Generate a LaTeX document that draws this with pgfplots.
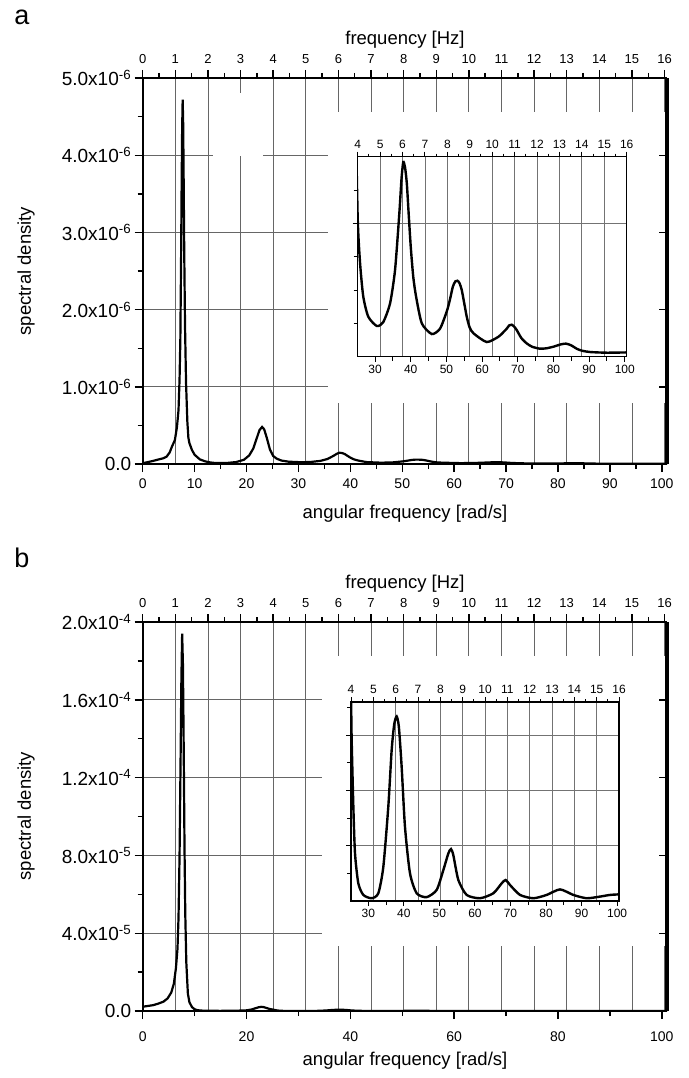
\documentclass[border=0pt]{standalone}
\usepackage{fontspec}
\setmainfont{Liberation Sans}
\usepackage{pgfplots}
\usepackage{pgfplotstable}
\pgfplotsset{compat=1.18}
\newcommand{\fs}[1]{\fontsize{#1}{#1}\selectfont}

% spectral density, y in units of 1e-6
\pgfplotstableread{
x y
0 0.01
1 0.025
2 0.04
3 0.058
4 0.075
4.6 0.095
5.2 0.15
5.6 0.22
6.2 0.31
6.6 0.48
6.9 0.70
7.1 1.10
7.25 1.60
7.4 2.70
7.5 3.60
7.6 4.35
7.7 4.72
7.8 4.40
7.9 3.60
8.0 2.75
8.15 1.80
8.35 1.05
8.6 0.55
8.8 0.34
9.0 0.27
9.5 0.18
10 0.12
11 0.06
12 0.035
13 0.02
14 0.013
16 0.012
18 0.025
19.5 0.055
20.5 0.11
21.3 0.20
22.0 0.34
22.5 0.44
23.0 0.48
23.4 0.45
23.9 0.34
24.5 0.19
25.13 0.104
25.8 0.070
26.7 0.045
28.1 0.030
30.5 0.023
32.3 0.026
34.2 0.040
35.6 0.065
36.8 0.1075
37.4 0.133
37.9 0.146
38.4 0.142
38.9 0.130
39.4 0.108
40.0 0.0825
40.7 0.060
41.5 0.045
43.1 0.025
45.9 0.017
48.2 0.021
50.1 0.034
51.0 0.043
51.8 0.0525
52.5 0.0565
53.1 0.057
53.7 0.055
54.3 0.050
55.0 0.040
55.7 0.030
56.5 0.022
57.6 0.0175
61.3 0.011
64.6 0.015
66.0 0.0185
66.9 0.021
67.6 0.0235
68.3 0.024
69.0 0.0225
69.7 0.020
71.0 0.014
72.5 0.010
74.0 0.0075
76.2 0.006
78.0 0.0063
80.0 0.0075
82.0 0.0092
83.5 0.0098
85.0 0.0085
86.5 0.006
88.0 0.0045
90.3 0.0035
94.9 0.003
100.5 0.0032
101 0.0032
}\specA

\pgfplotstableread{
x y
0 2.2
1 2.6
2 3.0
3 3.8
4 4.8
4.8 6.5
5.5 9.5
6.0 14
6.4 22
6.7 32
6.9 48
7.1 80
7.3 130
7.45 170
7.6 194
7.75 178
7.9 135
8.05 85
8.2 50
8.4 25
8.7 9
9.0 4.5
9.5 2.0
10 0.9
10.6 0.4
11.5 0.2
13 0.1
15 0.08
18 0.15
20 0.35
21 0.8
21.7 1.4
22.3 1.9
22.8 2.15
23.3 2.0
23.8 1.6
24.3 1.15
24.8 0.85
25.13 0.74
25.32 0.582
25.79 0.342
26.26 0.172
27.19 0.064
28.6 0.022
30.94 0.010
32.82 0.028
34.23 0.124
35.63 0.342
36.57 0.546
37.3 0.640
37.98 0.668
38.6 0.630
39.38 0.486
40.32 0.268
41.73 0.100
43.6 0.028
46.4 0.014
49.23 0.040
51.11 0.112
52.51 0.172
53.26 0.188
53.92 0.166
55.33 0.076
57.67 0.022
61.42 0.010
65.17 0.028
67.52 0.064
68.64 0.076
69.86 0.058
72.68 0.022
76.43 0.010
80.18 0.022
83.93 0.042
87.68 0.022
91.43 0.010
95.18 0.016
97.99 0.022
100.53 0.024
101 0.024
}\specB

\pgfplotsset{
  every axis/.append style={scale only axis, anchor=south west,
    /pgf/number format/assume math mode=true},
  gridax/.style={xmin=0, xmax=16.0746, xtick={1,...,16},
    xticklabels={}, yticklabels={}, major tick length=0pt,
    axis line style={draw=none}, grid=major,
    major grid style={black!60, line width=0.8pt}},
  mainax/.style={xmin=0, xmax=101, axis x line*=bottom, axis y line*=left,
    tick align=outside, major tick length=8pt, minor tick length=5pt,
    tick style={black, line width=1.4pt}, axis line style={line width=2.2pt},
    xticklabel style={font=\fs{14}, yshift=-3pt},
    yticklabel style={font=\fs{19}}},
  hzax/.style={xmin=0, xmax=16.0746, axis x line*=top, hide y axis,
    tick align=outside, major tick length=8pt, minor tick length=5pt,
    tick style={black, line width=1.4pt}, axis line style={line width=2.6pt},
    xtick={0,...,16}, minor xtick={0.5,1.5,...,15.5},
    xticklabel style={font=\fs{13}, yshift=3pt}},
  rightax/.style={xmin=0, xmax=101, hide x axis, axis y line*=right,
    tick align=inside, major tick length=8pt, yticklabels={},
    tick style={black, line width=1.4pt}, axis line style={line width=3.2pt}},
  insethz/.style={xmin=4, xmax=16, ymin=0, ymax=1, axis x line*=top,
    hide y axis, tick align=outside, major tick length=5pt,
    minor tick length=3pt, tick style={black, line width=1pt},
    axis line style={line width=1.2pt}, xtick={4,...,16},
    minor xtick={4.5,5.5,...,15.5}, grid=major,
    major grid style={black!55, line width=0.8pt},
    xticklabel style={font=\fs{12}}},
  insetdata/.style={xmin=25.1327, xmax=100.531, xtick pos=left,
    ytick pos=left, tick align=outside, major tick length=5pt,
    minor tick length=4pt, tick style={black, line width=1pt},
    axis line style={line width=1.2pt}, xtick={30,40,...,100},
    minor xtick={35,45,...,95}, yticklabels={}, ymajorgrids=true,
    major grid style={black!55, line width=0.8pt},
    xticklabel style={font=\fs{12}}},
}

\begin{document}
\begin{tikzpicture}
\useasboundingbox (0pt,0pt) rectangle (688pt,-1078pt);

% ================= panel a =================
\begin{axis}[gridax, at={(142.7pt,-464pt)}, width=524.3pt, height=386pt,
  ymin=0, ymax=5, ytick={1,2,3,4}]
  \fill[white] (rel axis cs:0.3534,0.158) rectangle (rel axis cs:1,0.912);
  \fill[white] (rel axis cs:0.134,0.799) rectangle (rel axis cs:0.2295,0.961);
\end{axis}

\begin{axis}[mainax, at={(142.7pt,-464pt)}, width=524.3pt, height=386pt,
  ymin=0, ymax=5,
  xtick={0,10,...,100}, minor xtick={5,15,...,95},
  ytick={0,1,2,3,4,5}, minor ytick={0.5,1.5,2.5,3.5,4.5},
  yticklabels={0.0, 1.0x10\textsuperscript{-6}, 2.0x10\textsuperscript{-6},
    3.0x10\textsuperscript{-6}, 4.0x10\textsuperscript{-6}, 5.0x10\textsuperscript{-6}}]
  \addplot[black, line width=2.2pt] table {\specA};
\end{axis}

\begin{axis}[hzax, at={(142.7pt,-464pt)}, width=524.3pt, height=386pt,
  ymin=0, ymax=5]
\end{axis}

\begin{axis}[rightax, at={(142.7pt,-464pt)}, width=524.3pt, height=386pt,
  ymin=0, ymax=5, ytick={1,2,3,4}]
\end{axis}

% inset a
\begin{axis}[insethz, at={(357.7pt,-356.7pt)}, width=269pt, height=200pt]
\end{axis}
\begin{axis}[insetdata, at={(357.7pt,-356.7pt)}, width=269pt, height=200pt,
  ymin=0, ymax=0.15, ytick={0.1}, minor ytick={0.025,0.05,0.075,0.125}]
  \addplot[black, line width=2.4pt, smooth, tension=0.4,
    restrict x to domain=24.5:101] table {\specA};
\end{axis}

\node[font=\fs{27}] at (22pt,-17pt) {a};
\node[font=\fs{18.5}] at (405pt,-40pt) {frequency [Hz]};
\node[font=\fs{18.5}] at (405pt,-514pt) {angular frequency [rad/s]};
\node[font=\fs{18.5}, rotate=90] at (26pt,-271pt) {spectral density};

% ================= panel b =================
\begin{axis}[gridax, at={(142.7pt,-1011pt)}, width=524.3pt, height=389pt,
  ymin=0, ymax=200, ytick={40,80,120,160}]
  \fill[white] (rel axis cs:0.342,0.167) rectangle (rel axis cs:1,0.9126);
\end{axis}

\begin{axis}[mainax, at={(142.7pt,-1011pt)}, width=524.3pt, height=389pt,
  ymin=0, ymax=200,
  xtick={0,20,...,100}, minor xtick={10,30,...,90},
  ytick={0,40,80,120,160,200}, minor ytick={20,60,100,140,180},
  yticklabels={0.0, 4.0x10\textsuperscript{-5}, 8.0x10\textsuperscript{-5},
    1.2x10\textsuperscript{-4}, 1.6x10\textsuperscript{-4}, 2.0x10\textsuperscript{-4}},
  xticklabel style={yshift=-6pt}]
  \addplot[black, line width=2.2pt] table {\specB};
\end{axis}

\begin{axis}[hzax, at={(142.7pt,-1011pt)}, width=524.3pt, height=389pt,
  ymin=0, ymax=200]
\end{axis}

\begin{axis}[rightax, at={(142.7pt,-1011pt)}, width=524.3pt, height=389pt,
  ymin=0, ymax=200, ytick={40,80,120,160}]
\end{axis}

% inset b
\begin{axis}[insethz, at={(351pt,-901pt)}, width=268pt, height=199pt]
\end{axis}
\begin{axis}[insetdata, at={(351pt,-901pt)}, width=268pt, height=199pt,
  ymin=0, ymax=0.72, ytick={0.2,0.4,0.6}, minor ytick={0.1,0.3,0.5,0.7}]
  \addplot[black, line width=2.4pt, smooth, tension=0.4,
    restrict x to domain=24.8:101] table {\specB};
\end{axis}

\node[font=\fs{27}] at (22pt,-558pt) {b};
\node[font=\fs{18.5}] at (405pt,-584pt) {frequency [Hz]};
\node[font=\fs{18.5}] at (405pt,-1061pt) {angular frequency [rad/s]};
\node[font=\fs{18.5}, rotate=90] at (26pt,-816pt) {spectral density};
\end{tikzpicture}
\end{document}
